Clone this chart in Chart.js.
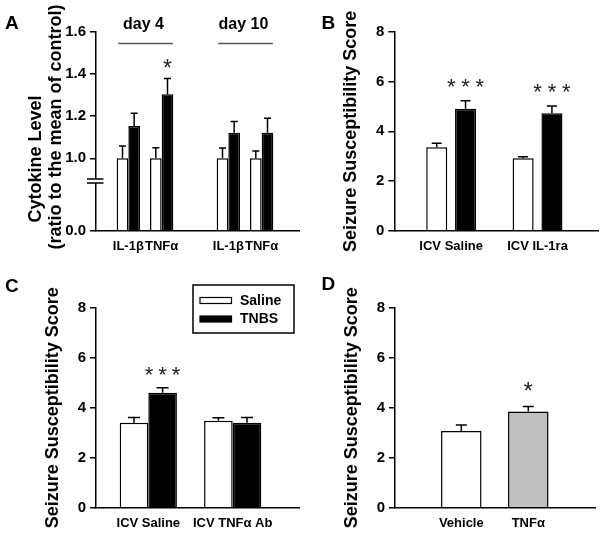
<!DOCTYPE html>
<html>
<head>
<meta charset="utf-8">
<script src="https://cdn.jsdelivr.net/npm/chart.js@4.4.1/dist/chart.umd.min.js"></script>
<style>
    html, body { margin: 0; padding: 0; background: #fff; }
    #figure { position: relative; width: 601px; height: 538px; }
    #figure canvas { position: absolute; left: 0; top: 0; }
</style>
</head>
<body>
<div id="figure">
    <canvas id="chartA" width="601" height="538"></canvas>
    <canvas id="chartB" width="601" height="538"></canvas>
    <canvas id="chartC" width="601" height="538"></canvas>
    <canvas id="chartD" width="601" height="538"></canvas>
</div>
<script>
// ---- Dados ----
// A: citocinas (razão à média do controle), ordem: dia4 IL-1b, dia4 TNFa, dia10 IL-1b, dia10 TNFa
const cytoDays = ['day 4', 'day 10'];
const cytoLabels = ['IL-1β', 'TNFα', 'IL-1β', 'TNFα'];
const cytoSaline = [1.00, 1.00, 1.00, 1.00];
const cytoSalineSem = [0.058, 0.050, 0.049, 0.035];
const cytoTnbs = [1.153, 1.304, 1.121, 1.121];
const cytoTnbsSem = [0.060, 0.074, 0.054, 0.069];
const cytoTnbsStars = ['', '*', '', ''];
const cytoTicks = [0, 1.0, 1.2, 1.4, 1.6];
const cytoTickLabels = ['0.0', '1.0', '1.2', '1.4', '1.6'];

// B: IL-1ra
const ilraLabels = ['ICV Saline', 'ICV IL-1ra'];
const ilraSaline = [3.36, 2.92];
const ilraSalineSem = [0.16, 0.06];
const ilraTnbs = [4.91, 4.73];
const ilraTnbsSem = [0.32, 0.29];
const ilraTnbsStars = ['***', '***'];

// C: anticorpo anti-TNFa
const abLabels = ['ICV Saline', 'ICV TNFα Ab'];
const abSaline = [3.40, 3.48];
const abSalineSem = [0.21, 0.12];
const abTnbs = [4.60, 3.40];
const abTnbsSem = [0.20, 0.21];
const abTnbsStars = ['***', ''];

// D: injeção de TNFa
const injLabels = ['Vehicle', 'TNFα'];
const injScore = [3.07, 3.85];
const injSem = [0.24, 0.20];
const injStars = ['', '*'];

const scoreTicks = [0, 2, 4, 6, 8];
const scoreTickLabels = ['0', '2', '4', '6', '8'];
const scoreTitle = 'Seizure Susceptibility Score';

// ---- Estilo ----
const FONT = '"Liberation Sans", Arial, Helvetica, sans-serif';
const X_AXIS_H = 30;

// eixo quebrado do painel A: o trecho 0–1.0 ocupa LOWER_SPAN unidades
const LOWER_SPAN = 0.3445;
const BREAK_AT = 0.237;
function brk(v) {
    return v >= 1 ? LOWER_SPAN + (v - 1) : v * LOWER_SPAN;
}
const same = v => v;

function barSet(label, values, sem, stars, color, xs, map) {
    return {
        label: label,
        backgroundColor: color,
        borderColor: '#000',
        borderWidth: 1.5,
        data: values.map((v, i) => ({ x: xs[i], y: map(v) })),
        upper: values.map((v, i) => map(v + sem[i])),
        stars: stars
    };
}

function xAxis(positions, labels, min, max) {
    return {
        type: 'linear',
        min: min,
        max: max,
        offset: false,
        afterBuildTicks: s => { s.ticks = positions.map(v => ({ value: v })); },
        afterFit: s => { s.height = X_AXIS_H; },
        grid: { display: false, drawTicks: false, offset: false },
        border: { display: true, color: '#000', width: 1.5 },
        ticks: {
            autoSkip: false,
            maxRotation: 0,
            padding: 8,
            color: '#000',
            font: { family: FONT, size: 13, weight: 'bold' },
            callback: (v, i) => labels[i]
        }
    };
}

function yAxis(max, values, labels, width, title) {
    return {
        type: 'linear',
        min: 0,
        max: max,
        afterBuildTicks: s => { s.ticks = values.map(v => ({ value: v })); },
        afterFit: s => { s.width = width; },
        grid: { drawOnChartArea: false, drawTicks: true, tickLength: 6, color: '#000', lineWidth: 1.5 },
        border: { display: true, color: '#000', width: 1.5 },
        ticks: {
            padding: 4,
            color: '#000',
            font: { family: FONT, size: 15, weight: 'bold' },
            callback: (v, i) => labels[i]
        },
        title: title ? {
            display: true,
            text: title,
            color: '#000',
            padding: 0,
            font: { family: FONT, size: 18, weight: 'bold' }
        } : { display: false }
    };
}

function drawStars(ctx, text, cx, cy, size, step) {
    ctx.font = size + 'px ' + FONT;
    ctx.fillStyle = '#222';
    ctx.textAlign = 'center';
    ctx.textBaseline = 'alphabetic';
    const n = text.length;
    for (let k = 0; k < n; k++) {
        ctx.fillText('*', cx + (k - (n - 1) / 2) * step, cy + 0.53 * size);
    }
}

// barras de erro, asteriscos, letra do painel e extras
function extrasPlugin(cfg) {
    return {
        id: 'extras',
        afterDatasetsDraw(chart) {
            const ctx = chart.ctx;
            const yScale = chart.scales.y;
            ctx.save();
            chart.data.datasets.forEach((ds, i) => {
                const meta = chart.getDatasetMeta(i);
                meta.data.forEach((bar, j) => {
                    const yErr = yScale.getPixelForValue(ds.upper[j]);
                    ctx.strokeStyle = '#000';
                    ctx.lineWidth = 1.5;
                    ctx.beginPath();
                    ctx.moveTo(bar.x, bar.y);
                    ctx.lineTo(bar.x, yErr);
                    ctx.moveTo(bar.x - cfg.cap / 2, yErr);
                    ctx.lineTo(bar.x + cfg.cap / 2, yErr);
                    ctx.stroke();
                    if (ds.stars && ds.stars[j]) {
                        drawStars(ctx, ds.stars[j], bar.x, yErr - cfg.starGap, cfg.starSize, cfg.starStep || 0);
                    }
                });
            });
            ctx.restore();
        },
        afterDraw(chart) {
            const ctx = chart.ctx;
            ctx.save();
            ctx.fillStyle = '#000';
            ctx.font = 'bold 19px ' + FONT;
            ctx.textAlign = 'left';
            ctx.textBaseline = 'alphabetic';
            ctx.fillText(cfg.letter[0], cfg.letter[1], cfg.letter[2]);
            if (cfg.extra) cfg.extra(chart, ctx);
            ctx.restore();
        }
    };
}

function drawPanelA(chart, ctx) {
    const area = chart.chartArea;
    const yScale = chart.scales.y;
    // quebra do eixo
    const yb = yScale.getPixelForValue(BREAK_AT);
    ctx.fillStyle = '#fff';
    ctx.fillRect(area.left - 3, yb - 2, 6, 4);
    ctx.strokeStyle = '#000';
    ctx.lineWidth = 1.3;
    ctx.beginPath();
    ctx.moveTo(area.left - 9, yb - 2); ctx.lineTo(area.left + 7.5, yb - 2);
    ctx.moveTo(area.left - 9, yb + 2); ctx.lineTo(area.left + 7.5, yb + 2);
    ctx.stroke();

    // título do eixo y em duas linhas
    ctx.fillStyle = '#000';
    ctx.font = 'bold 18px ' + FONT;
    ctx.textAlign = 'center';
    ctx.textBaseline = 'middle';
    [['Cytokine Level', 36, 159], ['(ratio to the mean of control)', 56, 127]].forEach(t => {
        ctx.save();
        ctx.translate(t[1], t[2]);
        ctx.rotate(-Math.PI / 2);
        ctx.fillText(t[0], 0, 0);
        ctx.restore();
    });

    // rótulos "day 4" / "day 10" com linha
    const sal = chart.getDatasetMeta(0).data;
    const tnb = chart.getDatasetMeta(1).data;
    cytoDays.forEach((day, d) => {
        const a = sal[2 * d], b = tnb[2 * d + 1];
        const left = a.x - a.width / 2, right = b.x + b.width / 2;
        ctx.strokeStyle = '#555';
        ctx.lineWidth = 1.5;
        ctx.beginPath();
        ctx.moveTo(left + 1.5, 43.5);
        ctx.lineTo(right - 0.5, 43.5);
        ctx.stroke();
        ctx.fillStyle = '#000';
        ctx.font = 'bold 16px ' + FONT;
        ctx.textBaseline = 'alphabetic';
        ctx.fillText(day, (left + right) / 2 - 1.5, 28.5);
    });
}

function drawLegendC(chart, ctx) {
    ctx.strokeStyle = '#000';
    ctx.lineWidth = 1.5;
    ctx.strokeRect(193, 285, 101, 48);
    chart.data.datasets.forEach((ds, i) => {
        const y = 300.5 + i * 18.5;
        ctx.fillStyle = ds.backgroundColor;
        ctx.fillRect(200, y - 3, 31.5, 6);
        ctx.lineWidth = 1.2;
        ctx.strokeRect(200, y - 3, 31.5, 6);
        ctx.fillStyle = '#000';
        ctx.font = 'bold 14px ' + FONT;
        ctx.textAlign = 'left';
        ctx.textBaseline = 'middle';
        ctx.fillText(ds.label, 240, y + 0.5);
    });
}

function padFor(frame, yWidth) {
    return {
        left: frame.left - yWidth,
        top: frame.top,
        right: 601 - frame.right,
        bottom: 538 - frame.bottom - X_AXIS_H
    };
}

function baseOptions(frame, yWidth, scales) {
    return {
        responsive: false,
        animation: false,
        devicePixelRatio: 1,
        layout: { padding: padFor(frame, yWidth) },
        plugins: { legend: { display: false }, tooltip: { enabled: false } },
        scales: scales
    };
}

// ---- Painel A ----
const cytoPos = [0, 1, 3, 4];
const frameA = { left: 96, top: 31.7, right: 299, bottom: 231 };
new Chart(document.getElementById('chartA'), {
    type: 'bar',
    data: {
        datasets: [
            barSet('Saline', cytoSaline, cytoSalineSem, null, '#fff', cytoPos, brk),
            barSet('TNBS', cytoTnbs, cytoTnbsSem, cytoTnbsStars, '#000', cytoPos, brk)
        ]
    },
    options: Object.assign(baseOptions(frameA, 40, {
        x: xAxis(cytoPos, cytoLabels, -0.97, 5.12),
        y: yAxis(brk(1.6), cytoTicks.map(brk), cytoTickLabels, 40, null)
    }), {
        datasets: { bar: { categoryPercentage: 0.7, barPercentage: 1.0 } }
    }),
    plugins: [extrasPlugin({ cap: 7, starGap: 15, starSize: 23, letter: ['A', 5, 28.5], extra: drawPanelA })]
});

// ---- Painel B ----
const pairPos = [0, 1];
const frameB = { left: 394.3, top: 31.7, right: 598, bottom: 231 };
new Chart(document.getElementById('chartB'), {
    type: 'bar',
    data: {
        datasets: [
            barSet('Saline', ilraSaline, ilraSalineSem, null, '#fff', pairPos, same),
            barSet('TNBS', ilraTnbs, ilraTnbsSem, ilraTnbsStars, '#000', pairPos, same)
        ]
    },
    options: Object.assign(baseOptions(frameB, 54, {
        x: xAxis(pairPos, ilraLabels, -0.658, 1.70),
        y: yAxis(8, scoreTicks, scoreTickLabels, 54, scoreTitle)
    }), {
        datasets: { bar: { categoryPercentage: 0.667, barPercentage: 0.73 } }
    }),
    plugins: [extrasPlugin({ cap: 10, starGap: 18.5, starSize: 22, starStep: 14.3, letter: ['B', 321.5, 28.5] })]
});

// ---- Painel C ----
const frameC = { left: 96, top: 307.7, right: 299, bottom: 507.7 };
new Chart(document.getElementById('chartC'), {
    type: 'bar',
    data: {
        datasets: [
            barSet('Saline', abSaline, abSalineSem, null, '#fff', pairPos, same),
            barSet('TNBS', abTnbs, abTnbsSem, abTnbsStars, '#000', pairPos, same)
        ]
    },
    options: Object.assign(baseOptions(frameC, 54, {
        x: xAxis(pairPos, abLabels, -0.62, 1.786),
        y: yAxis(8, scoreTicks, scoreTickLabels, 54, scoreTitle)
    }), {
        datasets: { bar: { categoryPercentage: 0.678, barPercentage: 1.0 } }
    }),
    plugins: [extrasPlugin({ cap: 12, starGap: 17, starSize: 22, starStep: 13.5, letter: ['C', 5, 292], extra: drawLegendC })]
});

// ---- Painel D ----
const frameD = { left: 395, top: 307.7, right: 595, bottom: 507.7 };
new Chart(document.getElementById('chartD'), {
    type: 'bar',
    data: {
        datasets: [
            barSet('Score', injScore, injSem, injStars, ['#fff', '#c0c0c0'], pairPos, same)
        ]
    },
    options: Object.assign(baseOptions(frameD, 54, {
        x: xAxis(pairPos, injLabels, -0.99, 1.996),
        y: yAxis(8, scoreTicks, scoreTickLabels, 54, scoreTitle)
    }), {
        datasets: { bar: { categoryPercentage: 1.0, barPercentage: 0.605 } }
    }),
    plugins: [extrasPlugin({ cap: 11, starGap: 20, starSize: 24, letter: ['D', 321.5, 290] })]
});
</script>
</body>
</html>
